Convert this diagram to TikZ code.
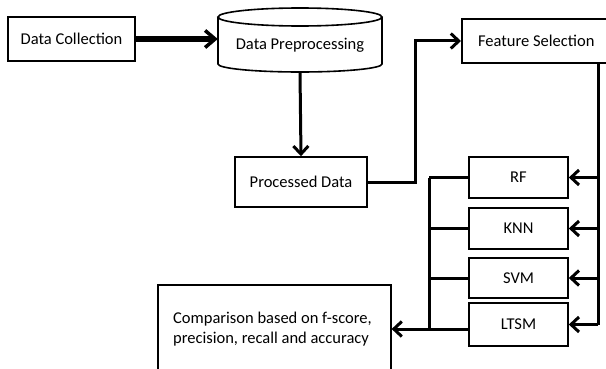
\documentclass[tikz,border=0pt]{standalone}
\usepackage{fontspec}
\setmainfont{Carlito}
\usetikzlibrary{arrows.meta}
\begin{document}
\begin{tikzpicture}[x=1pt,y=-1pt,
  box/.style={draw, line width=1.6pt, rectangle, inner sep=0pt, font=\fontsize{16.5}{19.5}\selectfont},
  lbl/.style={inner sep=0pt, font=\fontsize{16.5}{19.5}\selectfont},
  wire/.style={line width=3pt},
  conn/.style={line width=3pt, -{Straight Barb[length=8pt,width=15pt,line width=3pt]}},
  bigconn/.style={line width=6pt, -{Straight Barb[length=10pt,width=17pt,line width=3.5pt]}}]
\clip (0,0) rectangle (606,369);
\fill[white] (0,0) rectangle (606,369);
% nodes
\node[box, minimum width=127pt, minimum height=44pt] (dc) at (71.5,39) {Data Collection};
\node[inner sep=0pt, minimum width=164pt, minimum height=64pt] (pre) at (300,40) {};
\draw[line width=1.6pt] (300,17) ellipse [x radius=82pt, y radius=9pt];
\draw[line width=1.6pt] (218,17) -- (218,64) arc[start angle=180, end angle=360, x radius=82pt, y radius=8pt] -- (382,17);
\node[lbl] (pretxt) at (300,45) {Data Preprocessing};
\node[box, minimum width=132pt, minimum height=50pt] (pd) at (301,182) {Processed Data};
\node[box, minimum width=149pt, minimum height=44pt, anchor=west] (fs) at (461,41) {Feature Selection};
\node[box, minimum width=99pt, minimum height=41pt] (rf) at (518.5,177.5) {RF};
\node[box, minimum width=99pt, minimum height=41pt] (knn) at (518.5,228.5) {KNN};
\node[box, minimum width=99pt, minimum height=40pt] (svm) at (518.5,278) {SVM};
\node[box, minimum width=99pt, minimum height=43pt] (ltsm) at (518.5,324.5) {LTSM};
\node[box, minimum width=233pt, minimum height=100pt, anchor=north west] (cmp) at (157,284) {};
\node[lbl, anchor=west, align=left] (cmptxt) at (173,329) {Comparison based on f-score,\\precision, recall and accuracy};
% coordinates
\coordinate (rtop) at (598,63);
\coordinate (rbot) at (598,324.5);
\coordinate (ltop) at (429,177.5);
\coordinate (lbot) at (429,329);
% connectors
\draw[bigconn] (dc.east) -- (pre.west |- dc.east);
\draw[conn] (pre.south) -- (pd.north);
\draw[conn] (pd.east) -- ++(48pt,0) |- (fs.west);
\draw[wire] (rtop) -- (rbot);
\draw[conn] (rf.east -| rtop) -- (rf.east);
\draw[conn] (knn.east -| rtop) -- (knn.east);
\draw[conn] (svm.east -| rtop) -- (svm.east);
\draw[conn] (rbot) -- (ltsm.east);
\draw[wire] (ltop) -- (lbot);
\draw[wire] (rf.west) -- (ltop);
\draw[wire] (knn.west) -- (knn.west -| ltop);
\draw[wire] (svm.west) -- (svm.west -| ltop);
\draw[wire] (ltsm.west |- lbot) -- (lbot);
\draw[conn] (lbot) -- (cmp.east |- lbot);
\end{tikzpicture}
\end{document}
